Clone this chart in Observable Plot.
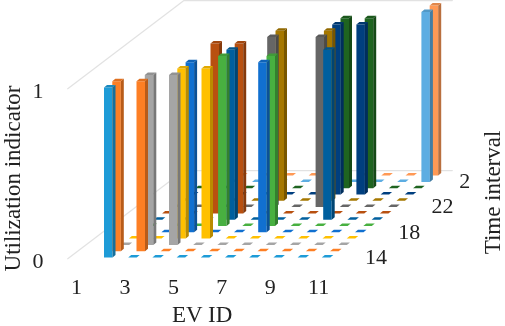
<!DOCTYPE html>
<html>
<head>
<meta charset="utf-8">
<script src="https://cdn.jsdelivr.net/npm/d3@7"></script>
<script src="https://cdn.jsdelivr.net/npm/@observablehq/plot@0.6"></script>
<style>
html,body{margin:0;padding:0;background:#fff}
svg{display:block;filter:blur(.35px)}
</style>
</head>
<body>
<div id="chart"></div>
<script>
// EV index (columns), time interval (rows, front to back)
const evIds = [1,2,3,4,5,6,7,8,9,10];
const timeIntervals = [13,14,15,16,17,18,19,20,21,22,23,24,1,2];
const rowColors = ["#1e9bd7","#fd7f24","#a5a5a5","#ffc000","#1170d0","#48b040","#005f9e",
                   "#b85010","#666666","#a57700","#003f7f","#1f6420","#5dade2","#ff9955"];
// [EV ID, time interval] pairs with utilization indicator 1
const usedEV   = [1,1,2,2,3,3,3,3,4,4,4,4,6,6,5,5,7,7,8,7,7,8,8,10,10];
const usedTime = [13,14,14,15,15,16,17,20,16,18,19,20,17,18,21,22,21,22,19,23,24,23,24,1,2];
const evTicks = [1,3,5,7,9,11];
const timeTicks = [14,18,22,2];
const valueTicks = [0,1];

const W = 505, H = 326;
// oblique projection constants, in chart units per depth row
const rowDX = 8.3/24.2, rowDY = 6.3/170;
const proj = (col,row,val) => ({u: col + row*rowDX, v: val + row*rowDY});
const barW = 8.5/24.2, sideDX = 3/24.2, sideDY = 2.5/170;

const used = new Set(usedEV.map((e,i)=>e+"|"+usedTime[i]));
const polys = [];
let pid = 0;
function poly(points, fill){
  const id = pid++;
  for (const p of points) polys.push({...p, id, fill});
}
timeIntervals.map((t,r)=>[t,r]).reverse().forEach(([t,r])=>{
  const base = rowColors[r];
  evIds.forEach((e,c)=>{
    const val = used.has(e+"|"+t) ? 1 : 0;
    const o = proj(c,r,0);
    if (val){
      poly([{u:o.u,v:o.v},{u:o.u+barW,v:o.v},{u:o.u+barW,v:o.v+1},{u:o.u,v:o.v+1}], base);
      poly([{u:o.u+barW,v:o.v},{u:o.u+barW+sideDX,v:o.v+sideDY},{u:o.u+barW+sideDX,v:o.v+1+sideDY},{u:o.u+barW,v:o.v+1}],
           d3.color(base).darker(0.9).formatHex());
    }
    const capFill = val ? d3.color(base).darker(0.35).formatHex() : base;
    poly([{u:o.u,v:o.v+val},{u:o.u+barW,v:o.v+val},{u:o.u+barW+sideDX,v:o.v+val+sideDY},{u:o.u+sideDX,v:o.v+val+sideDY}], capFill);
  });
});

const wallCol0 = -1.43, wallCol1 = 9.66, wallR0 = -0.2, wallR1 = 13.8;
const wallLines = [];
[0,1].forEach(val=>{
  [[wallCol0,wallR0],[wallCol0,wallR1],[wallCol1,wallR1]].forEach(([c,r])=>{
    wallLines.push({...proj(c,r,val), val});
  });
});

const serif = "'Liberation Serif', 'Times New Roman', serif";
const ink = "#222";
const tickSize = 22, titleSize = 23;
const title = {frameAnchor:"top-left", textAnchor:"middle", lineAnchor:"middle", text:d=>d, fontSize:titleSize, fill:ink, fontFamily:serif};

const chart = Plot.plot({
  width: W, height: H,
  margin: 0, marginTop:0, marginRight:0, marginBottom:0, marginLeft:0,
  style: {background:"#fff", fontFamily: serif},
  x: {domain:[-103.5/24.2,(W-103.5)/24.2], range:[0,W], axis:null},
  y: {domain:[257/170,(257-H)/170], range:[0,H], axis:null},
  color: {type:"identity"},
  marks: [
    Plot.line(wallLines, {x:"u", y:"v", z:"val", stroke:"#e2e2e2", strokeWidth:1.2}),
    Plot.line(polys, {x:"u", y:"v", z:"id", fill:"fill", stroke:"none", curve:"linear-closed"}),
    Plot.text(evTicks, {
      x:d=>proj(d-1,-3.3,0).u, y:d=>proj(d-1,-3.3,0).v, text:d=>String(d),
      dy:9, fontSize:tickSize, fill:ink, fontFamily:serif}),
    Plot.text(timeTicks, {
      x:d=>proj(10.9,timeIntervals.indexOf(d),0).u, y:d=>proj(10.9,timeIntervals.indexOf(d),0).v,
      text:d=>String(d), dy:5.5, fontSize:tickSize, fill:ink, fontFamily:serif,
      filter:d=>d!==2}),
    Plot.text(timeTicks, {
      x:d=>proj(10.9,timeIntervals.indexOf(d),0).u, y:d=>proj(10.9,timeIntervals.indexOf(d),0).v,
      text:d=>String(d), dx:-11, dy:5.5, fontSize:tickSize, fill:ink, fontFamily:serif,
      filter:d=>d===2}),
    Plot.text(valueTicks, {
      x:d=>proj(-2.73,0,d).u, y:d=>proj(-2.73,0,d).v, text:d=>String(d),
      dy:3.5, fontSize:tickSize, fill:ink, fontFamily:serif}),
    Plot.text(["EV ID"], {...title, dx:201.7, dy:314}),
    Plot.text(["Utilization indicator"], {...title, dx:12.5, dy:178, rotate:-90}),
    Plot.text(["Time interval"], {...title, dx:492.5, dy:192, rotate:-90})
  ]
});
document.getElementById("chart").appendChild(chart);
</script>
</body>
</html>
